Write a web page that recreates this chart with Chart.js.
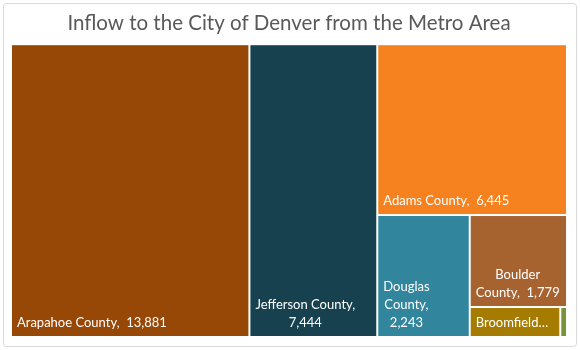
<!DOCTYPE html>
<html>
<head>
<meta charset="utf-8">
<script src="https://cdn.jsdelivr.net/npm/chart.js@4"></script>
<style>
  html, body { margin: 0; padding: 0; background: #fff; }
</style>
</head>
<body>
<canvas id="chartInflow" width="580" height="350"></canvas>
<script>
const counties = ["Arapahoe County", "Jefferson County", "Adams County", "Douglas County", "Boulder County", "Broomfield County", "Gilpin County"];
const inflow = [13881, 7444, 6445, 2243, 1779, 540, 40];
const tileColors = ["#974706", "#184150", "#F5821F", "#31859C", "#A6622F", "#A67C00", "#77933C"];

// each value takes a full strip across the shorter side of what is left,
// the strip is cut along the longer side (w, h are pixel sizes)
function sliceLayout(values, w, h) {
  let x = 0, y = 0, rw = 1, rh = 1;
  let rest = values.reduce((a, b) => a + b, 0);
  return values.map((v) => {
    const f = v / rest;
    let tile;
    if (rw * w >= rh * h) {
      tile = { x0: x, y0: y, x1: x + rw * f, y1: y + rh };
      x += rw * f;
      rw -= rw * f;
    } else {
      tile = { x0: x, y0: y, x1: x + rw, y1: y + rh * f };
      y += rh * f;
      rh -= rh * f;
    }
    rest -= v;
    return tile;
  });
}

function wrapLabel(ctx, i, maxW, maxLines) {
  const words = counties[i].split(" ");
  words[words.length - 1] += ",";
  const tokens = words.map((w, k) => ({ text: w, gap: k ? " " : "" }));
  tokens.push({ text: inflow[i].toLocaleString("en-US"), gap: "  " });

  const lines = [];
  let cur = "";
  tokens.forEach((t) => {
    const cand = cur ? cur + t.gap + t.text : t.text;
    if (!cur || ctx.measureText(cand).width <= maxW) {
      cur = cand;
    } else {
      lines.push(cur);
      cur = t.text;
    }
  });
  lines.push(cur);

  if (lines.length > maxLines) {
    const kept = lines.slice(0, maxLines);
    let last = kept[kept.length - 1];
    while (last.length > 1 && ctx.measureText(last + "…").width > maxW + 6) {
      last = last.slice(0, -1);
    }
    kept[kept.length - 1] = last + "…";
    return kept;
  }
  return lines;
}

function drawLabel(ctx, i, left, top, right, bottom) {
  const pad = 6;
  const lineH = 18;
  const maxW = right - left - 2 * pad;
  const maxLines = Math.floor((bottom - top - 6) / lineH);
  if (maxW < 20 || maxLines < 1) return;

  ctx.save();
  ctx.font = "13px Lato";
  ctx.fillStyle = "#ffffff";
  ctx.textBaseline = "middle";
  ctx.textAlign = "center";
  const lines = wrapLabel(ctx, i, maxW, maxLines);
  const blockW = Math.max(...lines.map((l) => ctx.measureText(l).width));
  const cx = left + pad + blockW / 2;
  const lastY = bottom - 14;
  lines.forEach((l, k) => {
    ctx.fillText(l, cx, lastY - (lines.length - 1 - k) * lineH);
  });
  ctx.restore();
}

const treemapPlugin = {
  id: "treemap",
  beforeDraw(chart) {
    const ctx = chart.ctx;
    ctx.save();
    ctx.fillStyle = "#ffffff";
    ctx.fillRect(0, 0, chart.width, chart.height);
    ctx.strokeStyle = "#d9d9d9";
    ctx.lineWidth = 1;
    ctx.beginPath();
    ctx.roundRect(3.5, 3.5, chart.width - 7, chart.height - 7, 3);
    ctx.stroke();
    ctx.restore();
  },
  afterDatasetsDraw(chart) {
    const { ctx, chartArea, scales } = chart;
    const tiles = sliceLayout(inflow, chartArea.width, chartArea.height);
    tiles.forEach((t, i) => {
      const left = scales.x.getPixelForValue(t.x0);
      const right = scales.x.getPixelForValue(t.x1);
      const top = scales.y.getPixelForValue(t.y0);
      const bottom = scales.y.getPixelForValue(t.y1);
      ctx.fillStyle = tileColors[i];
      ctx.fillRect(left + 1, top + 1, right - left - 2, bottom - top - 2);
      drawLabel(ctx, i, left, top, right, bottom);
    });
  }
};

const chartInflow = new Chart(document.getElementById("chartInflow"), {
  type: "scatter",
  data: { datasets: [] },
  options: {
    responsive: false,
    animation: false,
    layout: { padding: { left: 11, right: 13, top: 0, bottom: 13 } },
    scales: {
      x: { type: "linear", min: 0, max: 1, display: false },
      y: { type: "linear", min: 0, max: 1, reverse: true, display: false }
    },
    plugins: {
      legend: { display: false },
      tooltip: { enabled: false },
      title: {
        display: true,
        text: "Inflow to the City of Denver from the Metro Area",
        color: "#595959",
        font: { family: "Lato", size: 20.5, weight: "normal" },
        padding: { top: 11, bottom: 8.6 }
      }
    }
  },
  plugins: [treemapPlugin]
});
</script>
</body>
</html>
